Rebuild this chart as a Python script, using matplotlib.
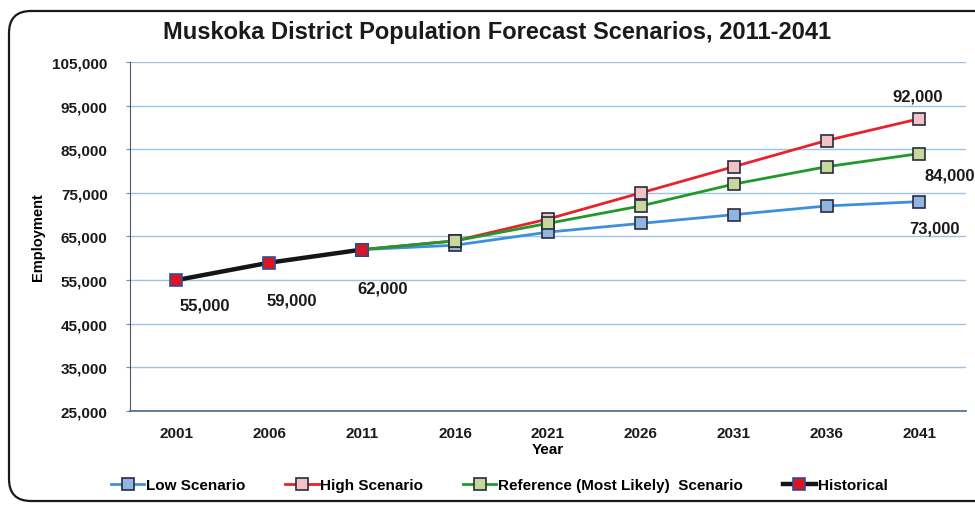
import matplotlib
matplotlib.use("Agg")
import matplotlib.pyplot as plt
from matplotlib.patches import FancyBboxPatch

years = ["2001", "2006", "2011", "2016", "2021", "2026", "2031", "2036", "2041"]
hist_years = ["2001", "2006", "2011"]
historical = [55000, 59000, 62000]
scen_years = ["2011", "2016", "2021", "2026", "2031", "2036", "2041"]
low = [62000, 63000, 66000, 68000, 70000, 72000, 73000]
high = [62000, 64000, 69000, 75000, 81000, 87000, 92000]
reference = [62000, 64000, 68000, 72000, 77000, 81000, 84000]
y_ticks = [25000, 35000, 45000, 55000, 65000, 75000, 85000, 95000, 105000]

plt.rcParams['font.family'] = ['Liberation Sans', 'DejaVu Sans']

fig = plt.figure(figsize=(9.75, 5.06), dpi=100)
frame = FancyBboxPatch((9, 4), 1000, 490, boxstyle="round,pad=0,rounding_size=22",
                       transform=None, facecolor="white", edgecolor="#1a1a1a", linewidth=1.6,
                       zorder=-10)
fig.patches.append(frame)

ax = fig.add_axes([0.1333, 0.1858, 0.8574, 0.6897])
ax.set_facecolor("none")
ax.set_zorder(2)

xpos = {y: i for i, y in enumerate(years)}
hx = [xpos[y] for y in hist_years]
sx = [xpos[y] for y in scen_years]

ax.plot(sx, low, color="#3d8fdc", lw=2.0, marker="s", ms=8.5, mfc="#8fb6e3", mec="#2b2b3a", mew=1.2, zorder=3, label="Low Scenario")
ax.plot(sx, high, color="#e8222a", lw=2.0, marker="s", ms=8.5, mfc="#f1c3c6", mec="#2b2b3a", mew=1.2, zorder=3, label="High Scenario")
ax.plot(sx, reference, color="#1f9a2a", lw=2.0, marker="s", ms=8.5, mfc="#c6d89c", mec="#2b2b3a", mew=1.2, zorder=4, label="Reference (Most Likely)  Scenario")
ax.plot(hx, historical, color="#151515", lw=3.2, marker="s", ms=8.5, mfc="#e0141e", mec="#2f4f9a", mew=1.2, zorder=5, label="Historical")

ax.set_xlim(-0.5, len(years) - 0.5)
ax.set_ylim(25000, 105000)
ax.set_xticks(range(len(years)))
ax.set_xticklabels(years, fontsize=11, fontweight="bold", color="#1a1a1a")
ax.set_yticks(y_ticks)
ax.set_yticklabels([f"{v:,}" for v in y_ticks], fontsize=11, fontweight="bold", color="#1a1a1a")
ax.tick_params(axis="x", length=0, pad=11)
ax.tick_params(axis="y", length=3, color="#6b8bb0", pad=13)
ax.grid(axis="y", color="#9cc3e6", lw=1.0, zorder=0)
ax.set_axisbelow(True)
for s in ["top", "right"]:
    ax.spines[s].set_visible(False)
ax.spines["left"].set_color("#4a5a6a")
ax.spines["bottom"].set_color("#4a6a8a")
ax.spines["bottom"].set_linewidth(1.2)

ax.set_ylabel("Employment", fontsize=10.5, fontweight="bold", labelpad=5)
ax.set_xlabel("Year", fontsize=11, fontweight="bold", labelpad=1)

fig.text(0.51, 0.935, "Muskoka District Population Forecast Scenarios, 2011-2041",
         ha="center", va="center", fontsize=17, fontweight="bold", color="#1a1a1a")

lab = dict(fontsize=12, fontweight="bold", color="#1a1a1a", textcoords="offset pixels", annotation_clip=False)
ax.annotate(f"{historical[0]:,}", (hx[0], historical[0]), xytext=(28, -25), ha="center", va="center", **lab)
ax.annotate(f"{historical[1]:,}", (hx[1], historical[1]), xytext=(22, -37), ha="center", va="center", **lab)
ax.annotate(f"{historical[2]:,}", (hx[2], historical[2]), xytext=(20, -38), ha="center", va="center", **lab)
ax.annotate(f"{high[-1]:,}", (sx[-1], high[-1]), xytext=(-2, 23), ha="center", va="center", **lab)
ax.annotate(f"{reference[-1]:,}", (sx[-1], reference[-1]), xytext=(5, -21), ha="left", va="center", **lab)
ax.annotate(f"{low[-1]:,}", (sx[-1], low[-1]), xytext=(15, -26), ha="center", va="center", **lab)

leg = fig.legend(loc="center", bbox_to_anchor=(0.512, 0.039), ncol=4, frameon=False,
                 fontsize=11, handlelength=2.2, handletextpad=0.1, columnspacing=2.6, markerscale=0.95)
for t in leg.get_texts():
    t.set_fontweight("bold")

fig.savefig("out.png", dpi=100)
